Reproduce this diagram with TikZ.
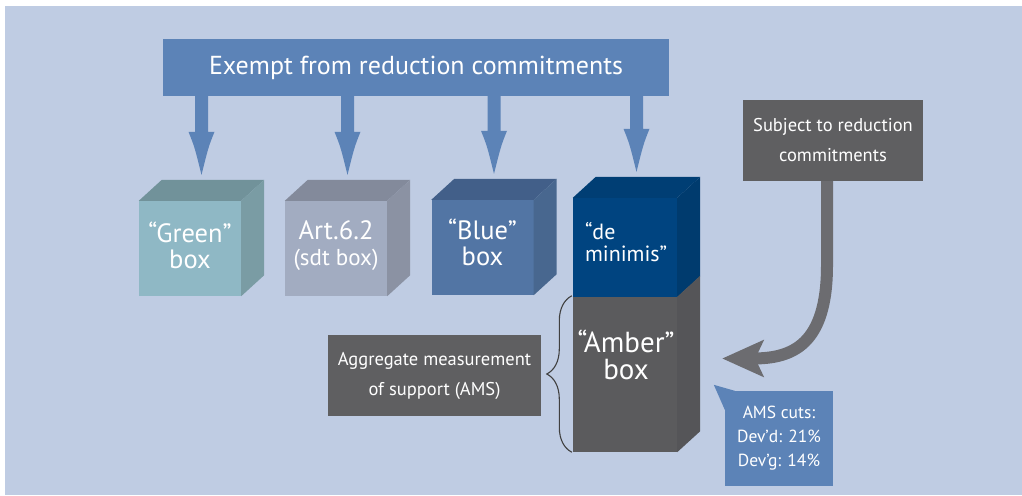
\documentclass[tikz,border=0pt]{standalone}
\usepackage{fontspec}
\setmainfont{PT Sans}
\usetikzlibrary{calc,arrows.meta,decorations.pathreplacing}

\definecolor{bgblue}{HTML}{BFCCE3}
\definecolor{exemptblue}{HTML}{5C83B7}
\definecolor{greenfront}{HTML}{8FB8C5}
\definecolor{greentop}{HTML}{71929A}
\definecolor{greenside}{HTML}{7A9CA4}
\definecolor{sdtfront}{HTML}{A2ACC1}
\definecolor{sdttop}{HTML}{838A9B}
\definecolor{sdtside}{HTML}{8B92A3}
\definecolor{bluefront}{HTML}{5275A4}
\definecolor{bluetop}{HTML}{425F89}
\definecolor{blueside}{HTML}{48678F}
\definecolor{deminfront}{HTML}{004480}
\definecolor{demintop}{HTML}{003E74}
\definecolor{deminside}{HTML}{003B6E}
\definecolor{amberfront}{HTML}{5B5B5D}
\definecolor{amberside}{HTML}{555558}
\definecolor{boxgray}{HTML}{5F5F61}
\definecolor{arrowgray}{HTML}{6C6C70}

\begin{document}
\begin{tikzpicture}[x=1pt,y=-1pt,
    face/.style={minimum width=102, minimum height=95, inner sep=0pt},
    cubetext/.style={text=white, align=center, inner sep=0pt, font=\fontsize{26.5}{26}\selectfont},
    graybox/.style={fill=boxgray, text=white, align=center, inner sep=0pt,
        font=\fontsize{18.5}{30}\selectfont}]

    % Background
    \useasboundingbox (0,0) rectangle (1022,495);
    \fill[bgblue] (5,6) rectangle (1022,495);

    % Exempt banner
    \node[fill=exemptblue, text=white, minimum width=506, minimum height=57, inner sep=0pt,
        font=\fontsize{26}{26}\selectfont] (banner) at (416,67.5) {Exempt from reduction commitments};

    % Box fronts
    \node[face, fill=greenfront] (green) at (190,248.5) {};
    \node[face, fill=sdtfront] (sdt) at (336,248.5) {};
    \node[face, fill=bluefront] (blue) at (482.5,247.5) {};
    \node[face, fill=deminfront, minimum width=104, minimum height=99] (demin) at (625,247.5) {};
    \node[face, fill=amberfront, minimum width=104, minimum height=155] (amber) at (625,374.5) {};

    % Box tops and sides
    \foreach \c/\tp/\sd in {green/greentop/greenside, sdt/sdttop/sdtside,
                            blue/bluetop/blueside, demin/demintop/deminside} {
        \fill[\tp] (\c.north west) -- ($(\c.north west)+(23,-21)$) -- ($(\c.north east)+(23,-21)$) -- (\c.north east) -- cycle;
        \fill[\sd] (\c.north east) -- ($(\c.north east)+(23,-21)$) -- ($(\c.south east)+(23,-21)$) -- (\c.south east) -- cycle;
    }
    \fill[amberside] (amber.north east) -- ($(amber.north east)+(23,-21)$) -- ($(amber.south east)+(23,-21)$) -- (amber.south east) -- cycle;

    % Box labels
    \node[cubetext] (greentext) at ($(green)+(0,-3.5)$) {“Green”\\box};
    \node[cubetext] (sdttext) at ($(sdt)+(0,-2.5)$) {Art.6.2\\{\fontsize{23}{24}\selectfont (sdt box)}};
    \node[cubetext] (bluetext) at ($(blue)+(0,-5)$) {“Blue”\\box};
    \node[cubetext, text width=80, align=left, font=\fontsize{22}{22}\selectfont]
        (demintext) at ($(demin)+(0,-5)$) {“de\\minimis”};
    \node[cubetext, font=\fontsize{29}{27}\selectfont] (ambertext) at (626,355) {“Amber”\\box};

    % Exempt arrows
    \foreach \c in {green,sdt,blue,demin} {
        \coordinate (tip) at ($(\c.north)+(11.5,-26)$);
        \fill[exemptblue] ($(banner.south -| tip)+(-6.5,-1)$) -- ($(tip)+(-6.5,-43)$) -- ($(tip)+(-13,-43)$)
            .. controls ($(tip)+(-7,-28)$) .. (tip)
            .. controls ($(tip)+(7,-28)$) .. ($(tip)+(13,-43)$) -- ($(tip)+(6.5,-43)$)
            -- ($(banner.south -| tip)+(6.5,-1)$) -- cycle;
    }

    % Subject to reduction
    \node[graybox, minimum width=180, minimum height=81] (subject) at (833,140.5) {Subject to reduction\\commitments};
    \coordinate (target) at ($(amber.east)+(45,-16)$);
    \coordinate (bend) at ($(subject.south)+(-6,84)$);
    \draw[arrowgray, line width=12pt, -{Stealth[length=41pt,width=36pt,inset=8pt]}]
        (subject.south -| bend) -- (bend) .. controls +(0,80) and +(70,0) .. (target);

    % AMS
    \node[graybox, minimum width=213, minimum height=81] (aggregate) at (434.5,375.5) {Aggregate measurement\\of support (AMS)};
    \draw[black!75, line width=1.1pt, decorate, decoration={brace, amplitude=25pt}]
        ($(amber.south west)+(-1,0)$) -- ($(amber.north west)+(-1,-1)$);

    % AMS cuts
    \node[fill=exemptblue, text=white, align=center, inner sep=0pt, minimum width=108, minimum height=95,
        font=\fontsize{17.5}{24}\selectfont] (cuts) at (779,438.5) {AMS cuts:\\Dev’d: 21\%\\Dev’g: 14\%};
    \fill[exemptblue] ($(cuts.north west)+(-11,-6)$) -- ($(cuts.north west)+(10,0)$) -- ($(cuts.north west)+(0,19)$) -- cycle;
\end{tikzpicture}
\end{document}
